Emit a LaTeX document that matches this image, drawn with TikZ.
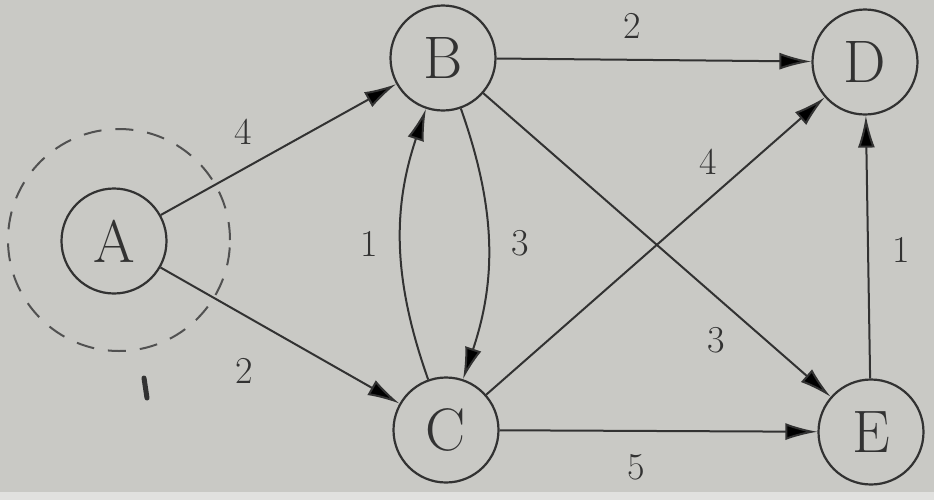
\documentclass[tikz,border=0pt]{standalone}
\usetikzlibrary{arrows.meta,automata,positioning}
\definecolor{paper}{RGB}{201,201,197}
\definecolor{ink}{RGB}{50,50,50}

\begin{document}
\begin{tikzpicture}[x=0.5pt,y=-0.5pt,>={Latex[length=16pt,width=8.5pt]},
    every state/.style={draw=ink,line width=1.1pt,fill=paper,text=ink,
        minimum size=52.5pt,inner sep=0pt,font=\fontsize{30}{36}\selectfont},
    weight/.style={font=\fontsize{19}{22}\selectfont,text=ink,inner sep=0pt}]
    \fill[paper] (0,0) rectangle (934,500);
    \fill[paper!55!white] (0,492) rectangle (934,500);
    \useasboundingbox (0,0) rectangle (934,500);

    \node[state] (s_a) at (114,241) {A};
    \node[state] (s_b) at (443,58)  {B};
    \node[state] (s_c) at (446,430) {C};
    \node[state] (s_d) at (865,62)  {D};
    \node[state] (s_e) at (871,432) {E};

    \draw[ink!85,line width=1pt,dash pattern=on 9pt off 7pt] (119,240) circle[radius=55.5pt];
    \draw[ink,line width=2.5pt,line cap=round] (144,378) -- (147,398);

    \path[->,draw=ink,line width=1pt]
        (s_a) edge               node[weight,pos=0.35,above=12pt]   {4} (s_b)
        (s_a) edge               node[weight,pos=0.35,below=21pt]   {2} (s_c)
        (s_b) edge               node[weight,pos=0.43,above=10pt]   {2} (s_d)
        (s_c) edge[bend left=19] node[weight,left=11pt]             {1} (s_b)
        (s_b) edge[bend left=19] node[weight,right=11.5pt]          {3} (s_c)
        (s_c) edge               node[weight,pos=0.655,above=12pt]  {4} (s_d)
        (s_b) edge               node[weight,pos=0.67,below=15pt]   {3} (s_e)
        (s_c) edge               node[weight,pos=0.43,below=11.5pt] {5} (s_e)
        (s_e) edge               node[weight,pos=0.49,right=11.5pt] {1} (s_d);
\end{tikzpicture}
\end{document}
